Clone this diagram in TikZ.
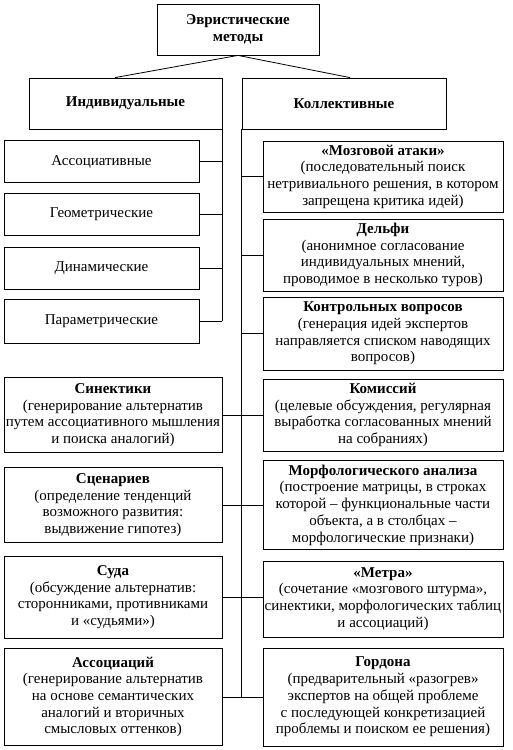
\documentclass[tikz,border=0pt]{standalone}
\usepackage{fontspec}
\setmainfont{Liberation Serif}
\usepackage{tikz}
\usetikzlibrary{positioning}

\begin{document}
\begin{tikzpicture}[x=1pt,y=-1pt,
        box/.style = {draw, line width=0.8pt, align=center, inner sep=0pt, font=\fontsize{15}{16.7}\selectfont},
        smallbox/.style = {box, minimum width=195pt, minimum height=42pt},
        leftbox/.style = {box, minimum width=218pt},
        rightbox/.style = {box, minimum width=240pt}]
        \useasboundingbox (0,0) rectangle (513,750);
        \node (top) at (238,29.5) [box, minimum width=162pt, minimum height=51pt] {\textbf{Эвристические}\\\textbf{методы}};
        \node (indiv) at (125.5,103.5) [box, minimum width=193pt, minimum height=51pt] {\textbf{Индивидуальные}};
        \node (coll) at (344,103.5) [box, minimum width=204pt, minimum height=51pt] {\textbf{Коллективные}};
        \path [draw, line width=0.8pt] (top.south) -- ([xshift=-10.5pt]indiv.north);
        \path [draw, line width=0.8pt] (top.south) -- ([xshift=6pt]coll.north);
        % individual methods
        \node (assoc) at (101.5,161.5) [smallbox] {Ассоциативные};
        \node (geom) at (101.5,214) [smallbox] {Геометрические};
        \node (dyn) at (101.5,268) [smallbox] {Динамические};
        \node (param) at (101.5,321) [smallbox, minimum height=44pt] {Параметрические};
        \node (sinekt) at (113,415) [leftbox, minimum height=75pt] {\textbf{Синектики}\\(генерирование альтернатив\\путем ассоциативного мышления\\и поиска аналогий)};
        \node (scen) at (113,505) [leftbox, minimum height=75pt] {\textbf{Сценариев}\\(определение тенденций\\возможного развития:\\выдвижение гипотез)};
        \node (suda) at (113,597) [leftbox, minimum height=82pt] {\textbf{Суда}\\(обсуждение альтернатив:\\сторонниками, противниками\\и «судьями»)};
        \node (assoc2) at (113,697) [leftbox, minimum height=97pt] {\textbf{Ассоциаций}\\(генерирование альтернатив\\на основе семантических\\аналогий и вторичных\\смысловых оттенков)};
        % collective methods
        \node (mozg) at (383,176.5) [rightbox, minimum height=71pt] {\textbf{«Мозговой атаки»}\\(последовательный поиск\\нетривиального решения, в котором\\запрещена критика идей)};
        \node (delfi) at (383,255) [rightbox, minimum height=72pt] {\textbf{Дельфи}\\(анонимное согласование\\индивидуальных мнений,\\проводимое в несколько туров)};
        \node (kontr) at (383,333.5) [rightbox, minimum height=73pt] {\textbf{Контрольных вопросов}\\(генерация идей экспертов\\направляется списком наводящих\\вопросов)};
        \node (komis) at (383,415) [rightbox, minimum height=72pt] {\textbf{Комиссий}\\(целевые обсуждения, регулярная\\выработка согласованных мнений\\на собраниях)};
        \node (morf) at (383,505) [rightbox, minimum height=89pt] {\textbf{Морфологического анализа}\\(построение матрицы, в строках\\которой -- функциональные части\\объекта, а в столбцах --\\морфологические признаки)};
        \node (metra) at (383,599) [rightbox, minimum height=76pt] {\textbf{«Метра»}\\(сочетание «мозгового штурма»,\\синектики, морфологических таблиц\\и ассоциаций)};
        \node (gord) at (383,697) [rightbox, minimum height=98pt] {\textbf{Гордона}\\(предварительный «разогрев»\\экспертов на общей проблеме\\с последующей конкретизацией\\проблемы и поиском ее решения)};
        % trunks
        \path [draw, line width=0.8pt] (indiv.south east) -- (param.east -| indiv.south east);
        \path [draw, line width=0.8pt] (coll.south west) -- (gord.west -| coll.south west);
        \foreach \m in {assoc,geom,dyn,param}
            \path [draw, line width=0.8pt] (\m.east) -- (\m.east -| indiv.south east);
        \foreach \m in {mozg,delfi,kontr}
            \path [draw, line width=0.8pt] (\m.west) -- (\m.west -| coll.south west);
        \foreach \a/\b in {sinekt/komis,scen/morf,suda/metra,assoc2/gord}
            \path [draw, line width=0.8pt] (\a.east) -- (\a.east -| \b.west);
\end{tikzpicture}
\end{document}
